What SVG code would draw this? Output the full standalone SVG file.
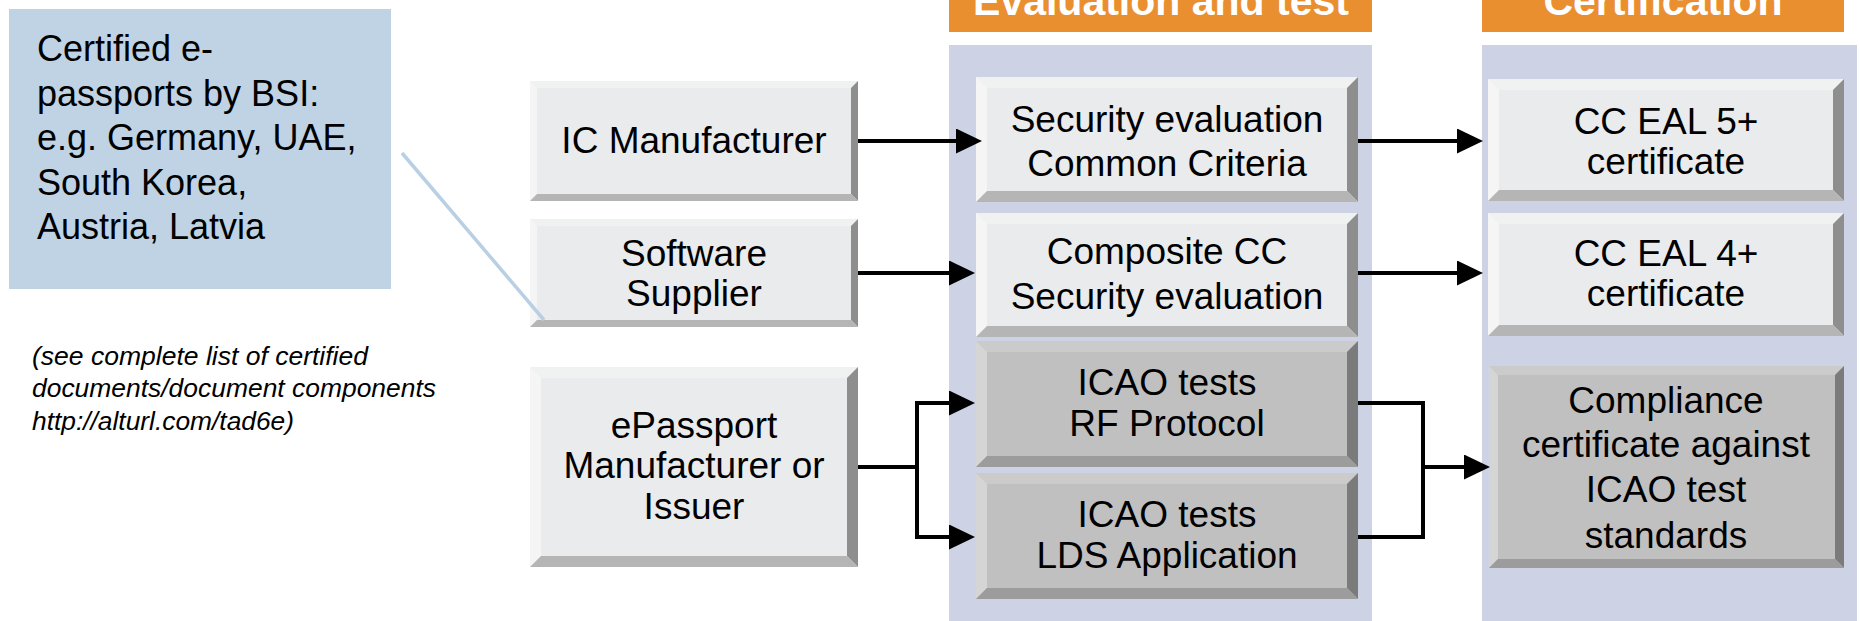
<svg xmlns="http://www.w3.org/2000/svg" width="1860" height="621" viewBox="0 0 1860 621">
<style>
text{font-family:"Liberation Sans",Arial,sans-serif;fill:#000}
.bt{font-size:37px;text-anchor:middle}
.hd{font-size:41px;font-weight:bold;fill:#fff;text-anchor:middle}
.co{font-size:36px}
.nt{font-size:25px;font-style:italic}
.lf{fill:#eaebed}.lt{fill:#f0f1f1}.ll{fill:#f5f5f6}.lr{fill:#8e8e8e}.lb{fill:#b5b5b5}
.df{fill:#c0c0c0}.dt{fill:#cbcbcb}.dl{fill:#d5d5d5}.dr{fill:#7b7b7b}.db{fill:#9c9c9c}
.cn{fill:none;stroke:#000;stroke-width:4}
.ar{marker-end:url(#ah)}
</style>
<defs>
<marker id="ah" markerUnits="userSpaceOnUse" markerWidth="26" markerHeight="25" refX="16" refY="12.5" orient="auto">
<path d="M0,0 L26,12.5 L0,25 Z" fill="#000"/>
</marker>
</defs>
<rect width="1860" height="621" fill="#fff"/>
<g id="columns">
<rect x="949" y="0" width="423" height="32" fill="#ea8f30"/>
<rect x="949" y="45" width="423" height="576" fill="#cdd3e4"/>
<rect x="1482" y="0" width="362" height="32" fill="#ea8f30"/>
<rect x="1482" y="45" width="375" height="576" fill="#cdd3e4"/>
<text class="hd" x="1161" y="15">Evaluation and test</text>
<text class="hd" x="1663" y="15">Certification</text>
</g>
<g id="callout">
<rect x="9" y="9" width="382" height="280" fill="#bfd3e5"/>
<text class="co" x="37" y="61">Certified e-</text>
<text class="co" x="37" y="106">passports by BSI:</text>
<text class="co" x="37" y="150">e.g. Germany, UAE,</text>
<text class="co" x="37" y="195">South Korea,</text>
<text class="co" x="37" y="239">Austria, Latvia</text>
</g>
<g id="note">
<text class="nt" x="32" y="365" textLength="336" lengthAdjust="spacingAndGlyphs">(see complete list of certified</text>
<text class="nt" x="32" y="397" textLength="404" lengthAdjust="spacingAndGlyphs">documents/document components</text>
<text class="nt" x="32" y="430" textLength="262" lengthAdjust="spacingAndGlyphs">http://alturl.com/tad6e)</text>
</g>
<g id="ic-manufacturer">
<rect class="lf" x="530" y="81" width="328" height="120"/>
<polygon class="lt" points="530,81 858,81 851,88 537,88"/>
<polygon class="ll" points="530,81 537,88 537,194 530,201"/>
<polygon class="lr" points="858,81 858,201 851,194 851,88"/>
<polygon class="lb" points="530,201 537,194 851,194 858,201"/>
<text class="bt" x="694" y="153">IC Manufacturer</text>
</g>
<g id="software-supplier">
<rect class="lf" x="530" y="219" width="328" height="108"/>
<polygon class="lt" points="530,219 858,219 851,226 537,226"/>
<polygon class="ll" points="530,219 537,226 537,320 530,327"/>
<polygon class="lr" points="858,219 858,327 851,320 851,226"/>
<polygon class="lb" points="530,327 537,320 851,320 858,327"/>
<text class="bt" x="694" y="266">Software</text>
<text class="bt" x="694" y="306">Supplier</text>
</g>
<g id="epassport">
<rect class="lf" x="530" y="367" width="328" height="200"/>
<polygon class="lt" points="530,367 858,367 847,378 541,378"/>
<polygon class="ll" points="530,367 541,378 541,556 530,567"/>
<polygon class="lr" points="858,367 858,567 847,556 847,378"/>
<polygon class="lb" points="530,567 541,556 847,556 858,567"/>
<text class="bt" x="694" y="438">ePassport</text>
<text class="bt" x="694" y="478">Manufacturer or</text>
<text class="bt" x="694" y="519">Issuer</text>
</g>
<g id="security-evaluation">
<rect class="lf" x="976" y="77" width="382" height="125"/>
<polygon class="lt" points="976,77 1358,77 1347,88 987,88"/>
<polygon class="ll" points="976,77 987,88 987,191 976,202"/>
<polygon class="lr" points="1358,77 1358,202 1347,191 1347,88"/>
<polygon class="lb" points="976,202 987,191 1347,191 1358,202"/>
<text class="bt" x="1167" y="132">Security evaluation</text>
<text class="bt" x="1167" y="176">Common Criteria</text>
</g>
<g id="composite-cc">
<rect class="lf" x="976" y="213" width="382" height="124"/>
<polygon class="lt" points="976,213 1358,213 1347,224 987,224"/>
<polygon class="ll" points="976,213 987,224 987,326 976,337"/>
<polygon class="lr" points="1358,213 1358,337 1347,326 1347,224"/>
<polygon class="lb" points="976,337 987,326 1347,326 1358,337"/>
<text class="bt" x="1167" y="264">Composite CC</text>
<text class="bt" x="1167" y="309">Security evaluation</text>
</g>
<g id="icao-rf">
<rect class="df" x="976" y="341" width="382" height="126"/>
<polygon class="dt" points="976,341 1358,341 1347,352 987,352"/>
<polygon class="dl" points="976,341 987,352 987,456 976,467"/>
<polygon class="dr" points="1358,341 1358,467 1347,456 1347,352"/>
<polygon class="db" points="976,467 987,456 1347,456 1358,467"/>
<text class="bt" x="1167" y="395">ICAO tests</text>
<text class="bt" x="1167" y="436">RF Protocol</text>
</g>
<g id="icao-lds">
<rect class="df" x="976" y="473" width="382" height="126"/>
<polygon class="dt" points="976,473 1358,473 1347,484 987,484"/>
<polygon class="dl" points="976,473 987,484 987,588 976,599"/>
<polygon class="dr" points="1358,473 1358,599 1347,588 1347,484"/>
<polygon class="db" points="976,599 987,588 1347,588 1358,599"/>
<text class="bt" x="1167" y="527">ICAO tests</text>
<text class="bt" x="1167" y="568">LDS Application</text>
</g>
<g id="cc-eal5">
<rect class="lf" x="1488" y="79" width="356" height="122"/>
<polygon class="lt" points="1488,79 1844,79 1833,90 1499,90"/>
<polygon class="ll" points="1488,79 1499,90 1499,190 1488,201"/>
<polygon class="lr" points="1844,79 1844,201 1833,190 1833,90"/>
<polygon class="lb" points="1488,201 1499,190 1833,190 1844,201"/>
<text class="bt" x="1666" y="134">CC EAL 5+</text>
<text class="bt" x="1666" y="174">certificate</text>
</g>
<g id="cc-eal4">
<rect class="lf" x="1488" y="213" width="356" height="123"/>
<polygon class="lt" points="1488,213 1844,213 1833,224 1499,224"/>
<polygon class="ll" points="1488,213 1499,224 1499,325 1488,336"/>
<polygon class="lr" points="1844,213 1844,336 1833,325 1833,224"/>
<polygon class="lb" points="1488,336 1499,325 1833,325 1844,336"/>
<text class="bt" x="1666" y="266">CC EAL 4+</text>
<text class="bt" x="1666" y="306">certificate</text>
</g>
<g id="compliance">
<rect class="df" x="1489" y="366" width="355" height="202"/>
<polygon class="dt" points="1489,366 1844,366 1835,375 1498,375"/>
<polygon class="dl" points="1489,366 1498,375 1498,559 1489,568"/>
<polygon class="dr" points="1844,366 1844,568 1835,559 1835,375"/>
<polygon class="db" points="1489,568 1498,559 1835,559 1844,568"/>
<text class="bt" x="1666" y="413">Compliance</text>
<text class="bt" x="1666" y="457">certificate against</text>
<text class="bt" x="1666" y="502">ICAO test</text>
<text class="bt" x="1666" y="548">standards</text>
</g>
<g id="connectors">
<line x1="402" y1="153" x2="544" y2="320" stroke="#b9cfe3" stroke-width="3.5"/>
<path class="cn ar" d="M858,141 H972"/>
<path class="cn ar" d="M1358,141 H1473"/>
<path class="cn ar" d="M858,273 H965"/>
<path class="cn ar" d="M1358,273 H1473"/>
<path class="cn" d="M858,467 H917"/>
<path class="cn" d="M917,401 V539"/>
<path class="cn ar" d="M915,403 H965"/>
<path class="cn ar" d="M915,537 H965"/>
<path class="cn" d="M1358,403 H1423 V537 H1358"/>
<path class="cn ar" d="M1423,467 H1480"/>
</g>
</svg>
